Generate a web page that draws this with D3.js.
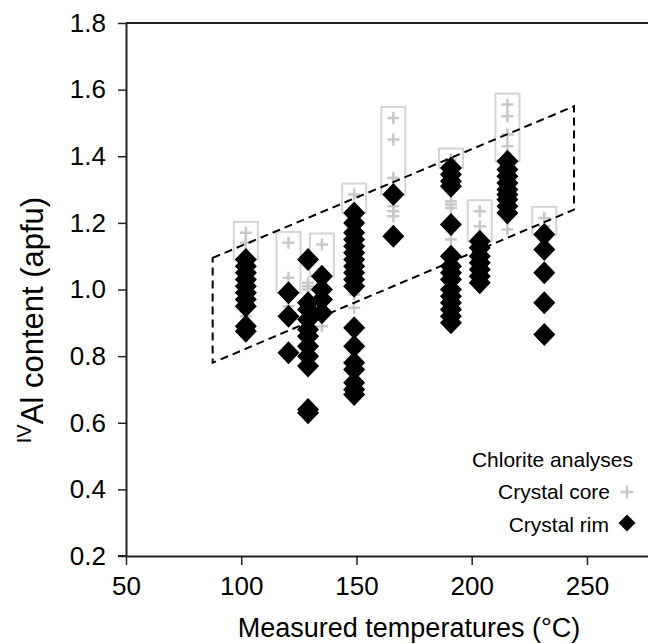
<!DOCTYPE html>
<html>
<head>
<meta charset="utf-8">
<script src="https://cdn.jsdelivr.net/npm/d3@7/dist/d3.min.js"></script>
<style>
  body { margin: 0; background: #fff; }
  svg { display: block; }
  text { font-family: "Liberation Sans", Arial, sans-serif; fill: #000; }
</style>
</head>
<body>
<svg id="chart" width="648" height="644"></svg>
<script>
// Sample temperatures (°C), one per analysed sample
const temperatures = [102, 120.5, 129, 135, 149, 166, 191, 203.5, 215.5, 231.5];

// IVAl (apfu) of crystal rims, per sample
const rimValues = [
  [1.09, 1.07, 1.05, 1.03, 1.01, 0.99, 0.97, 0.95, 0.89, 0.875],
  [0.99, 0.92, 0.81],
  [1.09, 0.96, 0.94, 0.91, 0.88, 0.86, 0.83, 0.80, 0.77, 0.64, 0.63],
  [1.04, 1.00, 0.97, 0.93],
  [1.23, 1.20, 1.17, 1.15, 1.13, 1.11, 1.09, 1.07, 1.05, 1.03, 1.01,
   0.885, 0.83, 0.78, 0.76, 0.72, 0.70, 0.685],
  [1.285, 1.16],
  [1.365, 1.345, 1.325, 1.31, 1.195, 1.10, 1.07, 1.05, 1.03, 1.00, 0.98,
   0.96, 0.94, 0.92, 0.90],
  [1.145, 1.125, 1.10, 1.08, 1.06, 1.04, 1.02],
  [1.385, 1.36, 1.34, 1.32, 1.30, 1.285, 1.27, 1.25, 1.23],
  [1.165, 1.12, 1.05, 0.96, 0.865]
];

// IVAl (apfu) of crystal cores, per sample
const coreValues = [
  [1.17, 1.14, 1.06, 1.00, 0.92],
  [1.14, 1.035, 0.95],
  [1.02, 1.01, 1.00],
  [1.135, 0.89],
  [1.285, 1.19, 0.985, 0.945],
  [1.515, 1.45, 1.335, 1.25, 1.235, 1.22],
  [1.39, 1.38, 1.265, 1.255, 1.245, 1.15],
  [1.235, 1.19],
  [1.555, 1.52, 1.465, 1.43, 1.18],
  [1.215, 1.19]
];

// Corners of the dashed trend envelope [°C, apfu]
const envelopeT = [87.6, 244.4, 244.4, 87.6];
const envelopeV = [1.095, 1.55, 1.24, 0.78];

const xTickValues = [50, 100, 150, 200, 250];
const yTickValues = [0.2, 0.4, 0.6, 0.8, 1.0, 1.2, 1.4, 1.6, 1.8];

const svg = d3.select("#chart");
const plotLeft = 126, plotRight = 648, plotTop = 23, plotBottom = 556;

const x = d3.scaleLinear().domain([50, 276.5]).range([plotLeft, plotRight]);
const y = d3.scaleLinear().domain([0.2, 1.8]).range([plotBottom, plotTop]);

const axisColor = "#222";

// axes
const xAxis = svg.append("g")
  .attr("transform", `translate(0,${plotBottom})`)
  .call(d3.axisBottom(x).tickValues(xTickValues).tickSize(9).tickPadding(12).tickSizeOuter(0));
const yAxis = svg.append("g")
  .attr("transform", `translate(${plotLeft},0)`)
  .call(d3.axisLeft(y).tickValues(yTickValues).tickSize(8).tickPadding(12)
        .tickSizeOuter(0).tickFormat(d3.format(".1f")));

[xAxis, yAxis].forEach(g => {
  g.select(".domain").attr("stroke", axisColor).attr("stroke-width", 2);
  g.selectAll(".tick line").attr("stroke", axisColor).attr("stroke-width", 1.5);
  g.selectAll(".tick text").attr("font-size", 26).attr("fill", "#000")
    .style("font-family", '"Liberation Sans", Arial, sans-serif');
});
// short stub of the x axis left of the y axis
svg.append("line")
  .attr("x1", plotLeft - 8).attr("x2", plotLeft)
  .attr("y1", plotBottom).attr("y2", plotBottom)
  .attr("stroke", axisColor).attr("stroke-width", 2);

// top frame line
svg.append("line")
  .attr("x1", plotLeft).attr("x2", plotRight)
  .attr("y1", plotTop).attr("y2", plotTop)
  .attr("stroke", axisColor).attr("stroke-width", 2);

// axis titles
svg.append("text")
  .attr("x", 409).attr("y", 637)
  .attr("text-anchor", "middle")
  .attr("font-size", 27)
  .text("Measured temperatures (°C)");

const yTitle = svg.append("text")
  .attr("transform", "translate(43,320) rotate(-90)")
  .attr("text-anchor", "middle")
  .attr("font-size", 31);
yTitle.append("tspan").attr("font-size", 20).attr("dy", -12).text("IV");
yTitle.append("tspan").attr("dy", 12).text("Al content (apfu)");

const samples = temperatures.map((t, i) => ({
  t, rim: rimValues[i], core: coreValues[i]
}));

const halfBox = 12;
const boxPad = 11;

// boxes around the core analyses that plot above the rims
svg.append("g").selectAll("rect")
  .data(samples.filter(s => d3.max(s.core) > d3.max(s.rim)))
  .join("rect")
  .attr("x", s => x(s.t) - halfBox)
  .attr("width", halfBox * 2)
  .attr("y", s => y(d3.max(s.core)) - boxPad)
  .attr("height", s => y(d3.max(s.rim)) - y(d3.max(s.core)) + boxPad)
  .attr("fill", "none")
  .attr("stroke", "#d4d4d4")
  .attr("stroke-width", 2);

const crossPath = r => `M${-r},0H${r}M0,${-r}V${r}`;
const diamondPath = (rx, ry) => `M0,${-ry}L${rx},0L0,${ry}L${-rx},0Z`;

// crystal core crosses
svg.append("g").selectAll("path")
  .data(samples.flatMap(s => s.core.map(v => ({ t: s.t, v }))))
  .join("path")
  .attr("transform", d => `translate(${x(d.t)},${y(d.v)})`)
  .attr("d", crossPath(6))
  .attr("stroke", "#c8c8c8")
  .attr("stroke-width", 2.5)
  .attr("fill", "none");

// dashed envelope
const envelope = envelopeT.map((t, i) => [x(t), y(envelopeV[i])]);
svg.append("path")
  .attr("d", d3.line()(envelope) + "Z")
  .attr("fill", "none")
  .attr("stroke", "#000")
  .attr("stroke-width", 2)
  .attr("stroke-dasharray", "8,5");

// crystal rim diamonds
svg.append("g").selectAll("path")
  .data(samples.flatMap(s => s.rim.map(v => ({ t: s.t, v }))))
  .join("path")
  .attr("transform", d => `translate(${x(d.t)},${y(d.v)})`)
  .attr("d", diamondPath(11, 11.5))
  .attr("fill", "#000");

// legend
const legend = svg.append("g").attr("font-size", 21);
legend.append("text").attr("x", 633).attr("y", 467)
  .attr("text-anchor", "end").text("Chlorite analyses");
legend.append("text").attr("x", 610).attr("y", 499)
  .attr("text-anchor", "end").text("Crystal core");
legend.append("path")
  .attr("transform", "translate(627,492)")
  .attr("d", crossPath(6.5))
  .attr("stroke", "#c8c8c8").attr("stroke-width", 2.5);
legend.append("text").attr("x", 609).attr("y", 532)
  .attr("text-anchor", "end").text("Crystal rim");
legend.append("path")
  .attr("transform", "translate(627,523)")
  .attr("d", diamondPath(8.5, 8.5))
  .attr("fill", "#000");
</script>
</body>
</html>
